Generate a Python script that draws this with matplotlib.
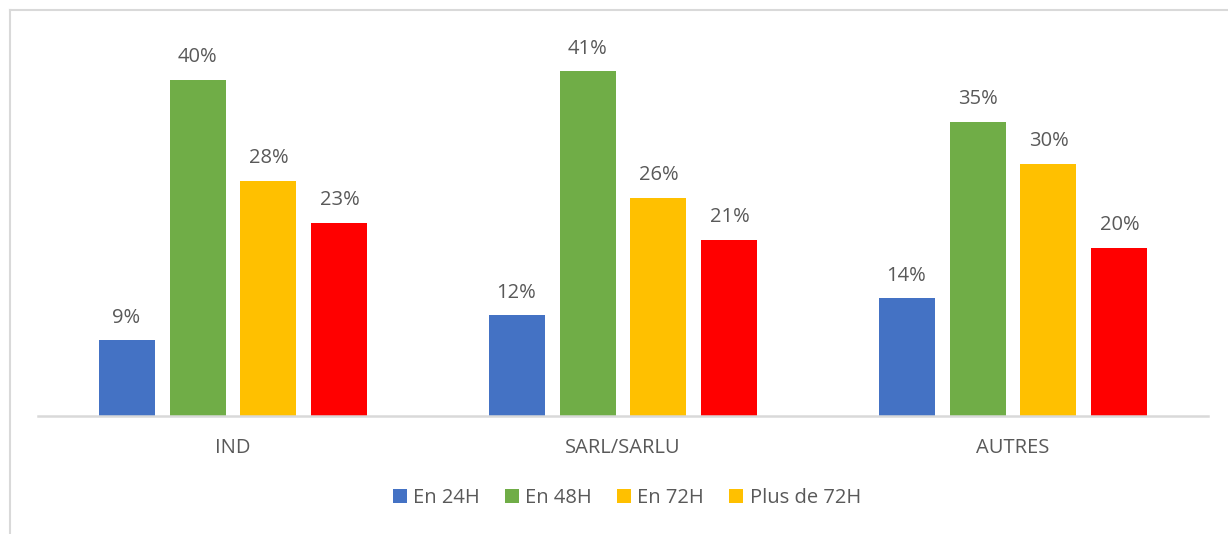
import matplotlib
matplotlib.use("Agg")
import matplotlib.pyplot as plt
from matplotlib.lines import Line2D
from matplotlib.patches import Patch
import numpy as np

categories = ["IND", "SARL/SARLU", "AUTRES"]
series_names = ["En 24H", "En 48H", "En 72H", "Plus de 72H"]
values = {
    "En 24H": [9, 12, 14],
    "En 48H": [40, 41, 35],
    "En 72H": [28, 26, 30],
    "Plus de 72H": [23, 21, 20],
}
bar_colors = ["#4472C4", "#70AD47", "#FFC000", "#FF0000"]
legend_colors = ["#4472C4", "#70AD47", "#FFC000", "#FFC000"]

plt.rcParams['font.family'] = ['Open Sans', 'DejaVu Sans']
W, H = 1228, 534
fig = plt.figure(figsize=(W/100, H/100), dpi=100)
fig.patch.set_facecolor("white")

ax = fig.add_axes([38/W, 1-416/H, 1170/W, (416-37)/H])
x = np.arange(len(categories))
step = 0.182
width = 0.1436
text_color = "#595959"
fs = 14.5
for i, name in enumerate(series_names):
    off = (i - 1.5) * step
    ax.bar(x + off, values[name], width=width, color=bar_colors[i], zorder=2)
    for xi, v in zip(x + off, values[name]):
        ax.text(xi, v + 1.5, f"{v}%", ha="center", va="bottom", fontsize=fs, color=text_color)

ax.set_xlim(-0.5, 2.5)
ax.set_ylim(0, 45.1)
for s in ["top", "right", "left"]:
    ax.spines[s].set_visible(False)
ax.spines["bottom"].set_color("#D9D9D9")
ax.spines["bottom"].set_linewidth(1.8)
ax.set_yticks([])
ax.set_xticks(x)
ax.set_xticklabels(categories, fontsize=fs, color=text_color)
ax.tick_params(axis="x", length=0, pad=16)

handles = [Patch(facecolor=c, edgecolor="none") for c in legend_colors]
fig.legend(handles, series_names, loc="center", bbox_to_anchor=(627/W, 1-498/H),
           ncol=4, frameon=False, fontsize=fs, labelcolor=text_color,
           handlelength=0.7, handleheight=0.7, handletextpad=0.3, columnspacing=1.25)

# outer chart border (left and top visible)
fig.add_artist(Line2D([9.5/W, 9.5/W], [0, 1-10/H], color="#D9D9D9", lw=1.5, transform=fig.transFigure))
fig.add_artist(Line2D([9.5/W, 1], [1-10/H, 1-10/H], color="#D9D9D9", lw=1.5, transform=fig.transFigure))

fig.savefig("out.png", dpi=100, facecolor="white")
